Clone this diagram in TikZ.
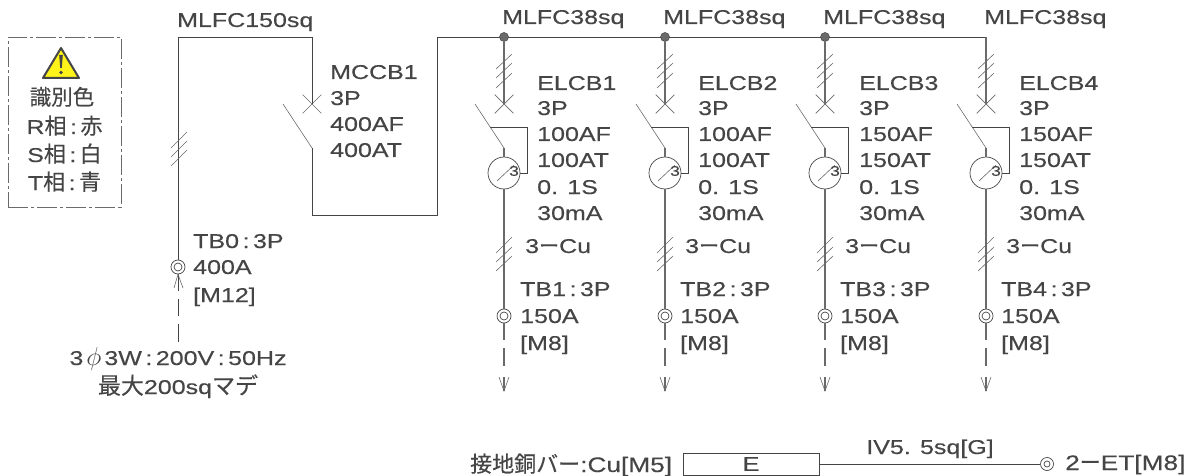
\documentclass[tikz,border=0pt]{standalone}
\usepackage{fontspec}
\setmainfont{Liberation Sans}[FakeStretch=1.25,FakeBold=0.35]
\newfontfamily\cjk{Noto Sans CJK JP}[FakeBold=0.25]
\newcommand{\cc}{\kern3.5pt:\kern3.5pt}
\usetikzlibrary{shapes.misc}
\definecolor{ink}{HTML}{454545}
\definecolor{soft}{HTML}{6A6A6A}
\tikzset{
  wire/.style={draw=ink,line width=0.9pt},
  vwire/.style={draw=soft,line width=1.1pt},
  thinl/.style={draw=soft,line width=0.6pt},
  lbl/.style={anchor=base west,yshift=-7pt,inner sep=0pt,text=ink,font=\fontsize{20}{20}\selectfont},
  clbl/.style={lbl,anchor=base},
  big/.style={font=\fontsize{21}{21}\selectfont},
  dot/.style={circle,fill=soft,draw=ink,line width=0.5pt,minimum size=9pt,inner sep=0pt},
  xmark/.style={cross out,draw=soft,line width=0.7pt,minimum size=18pt,inner sep=0pt},
  rcd/.style={circle,draw=ink,line width=0.7pt,minimum size=32pt,inner sep=0pt},
  term/.style={circle,draw=ink,line width=0.7pt,minimum size=14pt,inner sep=0pt},
  termin/.style={circle,draw=ink,line width=0.7pt,minimum size=8pt,inner sep=0pt},
}
\begin{document}
\begin{tikzpicture}[x=1pt,y=-1pt]
\useasboundingbox (0,0) rectangle (1191,476);
% legend
\node[draw=soft,line width=0.8pt,dash pattern=on 20pt off 3pt on 3pt off 3pt,minimum width=113pt,minimum height=170pt,inner sep=0pt] (legend) at (64.5,122) {};
\fill[yellow!90!white,draw=ink,line width=2pt,line join=round] (61,48) -- (79,78) -- (43,78) -- cycle;
\fill[ink] (59.2,55) -- (62.8,55) -- (61.8,68) -- (60.2,68) -- cycle;
\fill[ink] (61,72.5) circle (1.8);
\node[clbl,font=\cjk\fontsize{21.5}{21.5}\selectfont] (lg0) at (62,98) {識別色};
\node[clbl] (lg1) at (64.5,127) {R{\cjk\fontsize{22}{22}\selectfont 相}\cc{\cjk\fontsize{22}{22}\selectfont 赤}};
\node[clbl] (lg2) at (64.5,155) {S{\cjk\fontsize{22}{22}\selectfont 相}\cc{\cjk\fontsize{22}{22}\selectfont 白}};
\node[clbl] (lg3) at (64.5,183) {T{\cjk\fontsize{22}{22}\selectfont 相}\cc{\cjk\fontsize{22}{22}\selectfont 青}};
% main feeder
\node[term] (tb0) at (178,267) {};
\node[termin] at (tb0.center) {};
\node[xmark] (xm) at (312,104) {};
\coordinate (cTL) at (178,37);
\coordinate (cTR) at (312,37);
\coordinate (bladeTop) at (283,104);
\coordinate (bladeM) at (312,148);
\coordinate (cBL) at (312,215);
\coordinate (cBR) at (437,215);
\coordinate (cBus) at (437,37);
\coordinate (busEnd) at (986,37);
\draw[wire] (tb0) -- (cTL) -- (cTR) -- (xm.center);
\draw[thinl] (bladeTop) -- (bladeM);
\draw[wire] (bladeM) -- (cBL) -- (cBR) -- (cBus) -- (busEnd);
\foreach \a/\b in {148/132,157/141,166/150} \draw[thinl] (171,\a) -- (187,\b);
% incoming arrow
\coordinate (inEnd) at (178,342);
\draw[wire,dash pattern=on 17pt off 8pt on 17pt off 8pt on 18pt] (tb0) -- (inEnd);
\draw[thinl] (174,288) -- (tb0.south) -- (183,288);
% branches
\foreach \i/\x/\af/\lx/\tx/\cx in {1/504/100/537/520/525,2/665/100/698/680/685,3/825/150/859/840/845,4/986/150/1019/1001/1006}{
  \ifnum\i<4 \node[dot] (bus\i) at (\x,37) {}; \else \coordinate (bus\i) at (\x,37); \fi
  \node[xmark] (x\i) at (\x,104) {};
  \coordinate (b\i) at (\x-29,104);
  \coordinate (m\i) at (\x,148);
  \node[rcd] (r\i) at (\x,173) {};
  \node[term] (t\i) at (\x,316) {};
  \node[termin] at (t\i.center) {};
  \coordinate (e\i) at (\x,391);
  \coordinate (p1\i) at (\x-14,127);
  \coordinate (p2\i) at (\x+23,127);
  \coordinate (p3\i) at (\x+23,173);
  \draw[vwire] (bus\i) -- (x\i.center);
  \draw[thinl] (b\i) -- (m\i);
  \draw[vwire] (m\i) -- (r\i.north);
  \draw[vwire] (r\i.south) -- (t\i);
  \draw[wire,line width=0.7pt] (p1\i) -- (p2\i) -- (p3\i) -- (r\i.east);
  \draw[thinl] (\x-7,181) -- (\x+10,165);
  \node[inner sep=0pt,text=ink,font=\fontsize{14}{14}\selectfont] (n\i) at (\x+10,171) {3};
  \foreach \a/\b in {69/54,78/63,88/73,253/237,262/247,271/256}
    \draw[thinl] (\x-8,\a) -- (\x+8,\b);
  \draw[vwire,dash pattern=on 17pt off 8pt on 18pt off 11pt on 14pt] (t\i) -- (e\i);
  \draw[thinl] (\x-5,377) -- (e\i) -- (\x+5,377);
  \node[lbl] (w\i) at (\x-2,17) {MLFC38sq};
  \node[lbl] (l\i a) at (\lx,83) {ELCB\i};
  \node[lbl] (l\i b) at (\lx,108) {3P};
  \node[lbl] (l\i c) at (\lx,134) {\af AF};
  \node[lbl] (l\i d) at (\lx,160) {\af AT};
  \node[lbl] (l\i e) at (\lx,187) {0. 1S};
  \node[lbl] (l\i f) at (\lx,213) {30mA};
  \node[lbl] (c\i) at (\cx,246) {3{\cjk ー}Cu};
  \node[lbl] (ta\i) at (\tx,289) {TB\i\cc 3P};
  \node[lbl] (tb\i) at (\tx,316) {150A};
  \node[lbl] (tc\i) at (\tx,343) {[M8]};
}
% main labels
\node[lbl] (wm) at (177,20) {MLFC150sq};
\node[lbl] (mc1) at (330,72) {MCCB1};
\node[lbl] (mc2) at (330,98) {3P};
\node[lbl] (mc3) at (330,124) {400AF};
\node[lbl] (mc4) at (330,150) {400AT};
\node[lbl] (tz1) at (193,241) {TB0\cc 3P};
\node[lbl] (tz2) at (193,267) {400A};
\node[lbl] (tz3) at (193,295) {[M12]};
\node[clbl] (src1) at (178,358) {3\kern3pt\scalebox{1.25}{$\phi$}\kern3pt 3W\cc 200V\cc 50Hz};
\node[clbl] (src2) at (178,387) {{\cjk\fontsize{23}{23}\selectfont 最大}200sq{\cjk\fontsize{23}{23}\selectfont マデ}};
% earth bar
\node[draw=ink,line width=0.8pt,minimum width=136pt,minimum height=22pt,inner sep=0pt,text=ink,font=\fontsize{20}{20}\selectfont] (ebar) at (751,464) {E};
\node[term,minimum size=13pt] (et) at (1047,464) {};
\node[termin,minimum size=6pt] at (et.center) {};
\draw[wire] (ebar.east) -- (et.west);
\node[lbl,big] (eb) at (470,465) {{\cjk\fontsize{22}{22}\selectfont 接地銅バー}:Cu[M5]};
\node[clbl] (iv) at (930,447) {IV5. 5sq[G]};
\node[lbl,big] (e2) at (1065,463) {2{\cjk ー}ET[M8]};
\end{tikzpicture}
\end{document}
